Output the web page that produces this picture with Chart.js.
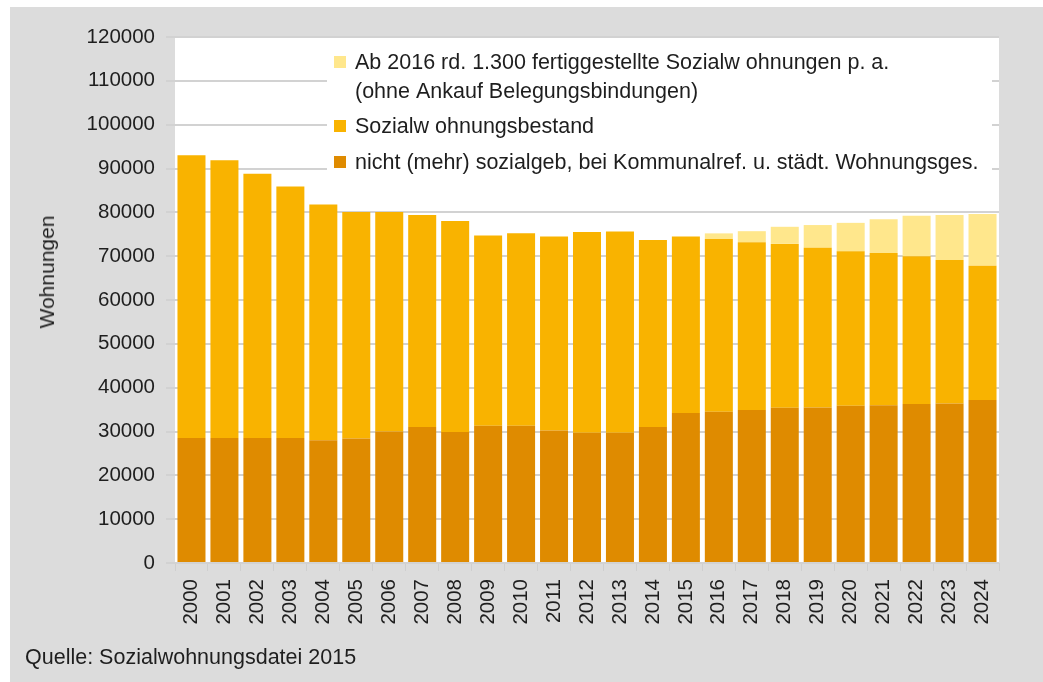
<!DOCTYPE html>
<html>
<head>
<meta charset="utf-8">
<script src="https://cdn.jsdelivr.net/npm/chart.js@4.4.1/dist/chart.umd.min.js"></script>
<style>
  html, body { margin: 0; padding: 0; background: #fff; }
  #wrap { position: relative; width: 1043px; height: 682px; }
  #panel { position: absolute; left: 10px; top: 7px; right: 0; bottom: 0; background: #dcdcdc; }
  canvas { position: absolute; left: 0; top: 0; }
  .txt { position: absolute; font-family: 'Liberation Sans', Arial, sans-serif; color: #1e1e1e; white-space: nowrap; }
  #ytitle { left: 47px; top: 272px; font-size: 21px; transform: translate(-50%, -50%) rotate(-90deg); }
  #quelle { left: 25px; top: 645px; font-size: 21.5px; }
</style>
</head>
<body>
<div id="wrap">
  <div id="panel"></div>
  <canvas id="c" width="1043" height="682"></canvas>
  <div class="txt" id="ytitle">Wohnungen</div>
  <div class="txt" id="quelle">Quelle: Sozialwohnungsdatei 2015</div>
</div>
<script>
const jahre = ['2000','2001','2002','2003','2004','2005','2006','2007','2008','2009','2010','2011','2012',
  '2013','2014','2015','2016','2017','2018','2019','2020','2021','2022','2023','2024'];

// nicht (mehr) sozialgebunden, bei Kommunalref. u. städt. Wohnungsges.
const nichtSozialgeb = [28500,28500,28500,28500,28000,28400,30000,31000,29900,31300,31300,30200,29700,
  29700,31000,34200,34500,34900,35400,35500,35900,36000,36300,36400,37200];

// Sozialwohnungsbestand (Anteil oberhalb der unteren Säule)
const sozialBestand = [64500,63400,60300,57400,53800,51700,50100,48400,48100,43400,43900,44300,45800,
  45900,42700,40300,39400,38300,37400,36400,35200,34700,33700,32700,30600];

// Ab 2016 fertiggestellte Sozialwohnungen (kumuliert)
const neubau = [0,0,0,0,0,0,0,0,0,0,0,0,0,0,0,0,1300,2500,3900,5200,6500,7700,9200,10300,11800];

const legendLines = [
  ['Ab 2016 rd. 1.300 fertiggestellte Sozialw ohnungen p. a.', '(ohne Ankauf Belegungsbindungen)'],
  ['Sozialw ohnungsbestand'],
  ['nicht (mehr) sozialgeb, bei Kommunalref. u. städt. Wohnungsges.']
];

const FONT = "'Liberation Sans', Arial, sans-serif";

const plotBg = {
  id: 'plotBg',
  beforeDraw(chart) {
    const { ctx, chartArea: a } = chart;
    ctx.save();
    ctx.fillStyle = '#fff';
    ctx.fillRect(a.left, a.top, a.right - a.left, a.bottom - a.top);
    ctx.restore();
  }
};

// Legende in weißem Kasten über den Gitterlinien
const boxLegend = {
  id: 'boxLegend',
  beforeDatasetsDraw(chart) {
    const ctx = chart.ctx;
    const ds = chart.data.datasets;
    ctx.save();
    ctx.fillStyle = '#fff';
    ctx.fillRect(327, 40, 665, 168);
    ctx.font = '21.5px ' + FONT;
    ctx.textBaseline = 'middle';
    const rows = [
      { ds: ds[2], ys: [62, 91] },
      { ds: ds[1], ys: [126] },
      { ds: ds[0], ys: [162] }
    ];
    rows.forEach((r, i) => {
      ctx.fillStyle = r.ds.backgroundColor;
      ctx.fillRect(334, r.ys[0] - 6, 12, 12);
      ctx.fillStyle = '#1e1e1e';
      legendLines[i].forEach((t, j) => ctx.fillText(t, 355, r.ys[j] + 1));
    });
    ctx.restore();
  }
};

new Chart(document.getElementById('c'), {
  type: 'bar',
  data: {
    labels: jahre,
    datasets: [
      { label: legendLines[2][0], data: nichtSozialgeb, backgroundColor: '#df8b00' },
      { label: legendLines[1][0], data: sozialBestand, backgroundColor: '#f9b300' },
      { label: legendLines[0].join(' '), data: neubau, backgroundColor: '#ffe78c' }
    ]
  },
  options: {
    responsive: false,
    animation: false,
    layout: { padding: { top: 37, right: 44, bottom: 0, left: 0 } },
    datasets: { bar: { barPercentage: 0.85, categoryPercentage: 1 } },
    plugins: { legend: { display: false }, tooltip: { enabled: false } },
    scales: {
      x: {
        stacked: true,
        afterFit: s => { s.height = 119; },
        grid: { display: true, drawOnChartArea: false, color: '#cfcfcf', tickLength: 8, offset: true },
        border: { display: false },
        ticks: {
          color: '#1e1e1e', font: { family: FONT, size: 20.5 },
          minRotation: 90, maxRotation: 90, padding: 8, autoSkip: false
        }
      },
      y: {
        stacked: true,
        min: 0, max: 120000,
        afterFit: s => { s.width = 175; },
        grid: { color: '#d2d2d2', lineWidth: 2, tickLength: 9 },
        border: { display: false },
        ticks: {
          stepSize: 10000, color: '#1e1e1e', padding: 11,
          font: { family: FONT, size: 20.5 },
          callback: v => String(v)
        }
      }
    }
  },
  plugins: [plotBg, boxLegend]
});
</script>
</body>
</html>
